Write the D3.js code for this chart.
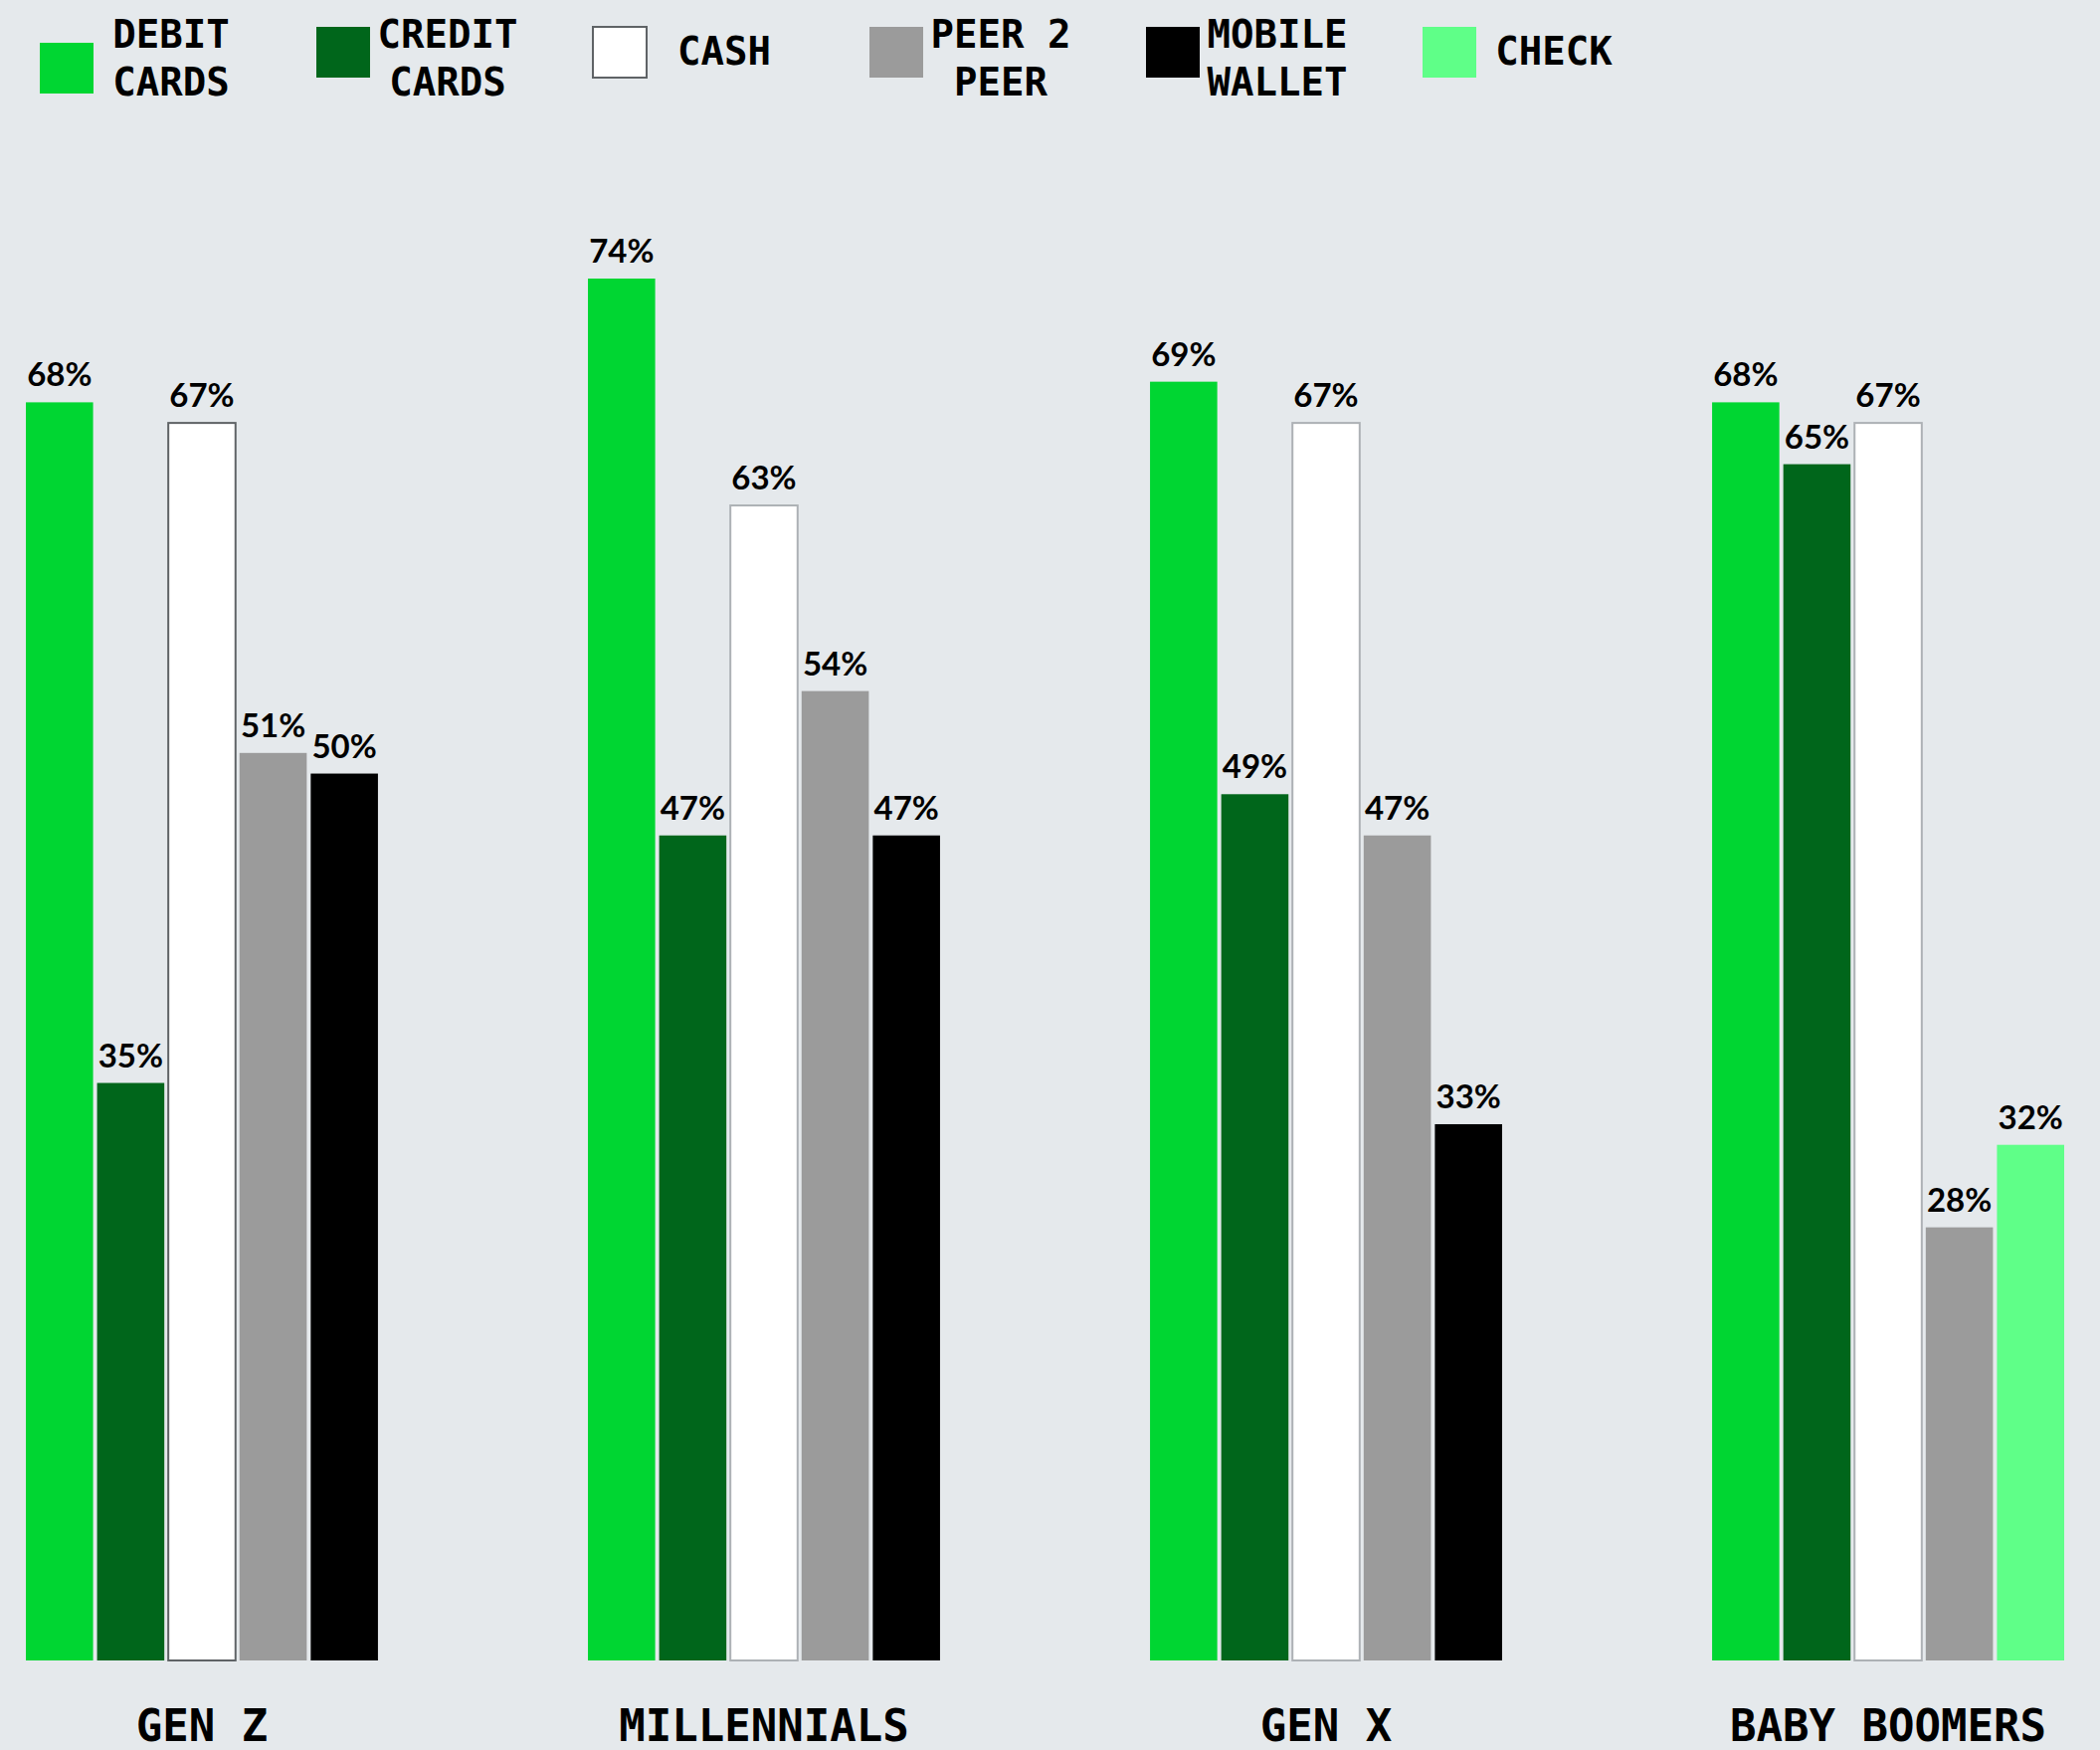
<!DOCTYPE html>
<html>
<head>
<meta charset="utf-8">
<script src="https://cdn.jsdelivr.net/npm/d3@7"></script>
<style>
  body { margin: 0; background: #e5e9ec; }
</style>
</head>
<body>
<svg id="chart" width="2111" height="1759"></svg>
<script>
// categories
const generations = ["GEN Z", "MILLENNIALS", "GEN X", "BABY BOOMERS"];
const methods = ["DEBIT CARDS", "CREDIT CARDS", "CASH", "PEER 2 PEER", "MOBILE WALLET", "CHECK"];
// legend text, split on two lines like the original
const legendLines = [["DEBIT", "CARDS"], ["CREDIT", "CARDS"], ["CASH"], ["PEER 2", "PEER"], ["MOBILE", "WALLET"], ["CHECK"]];

// series values (%), one per generation; null = not shown for that group
const debitCards   = [68, 74, 69, 68];
const creditCards  = [35, 47, 49, 65];
const cash         = [67, 63, 67, 67];
const peer2Peer    = [51, 54, 47, 28];
const mobileWallet = [50, 47, 33, null];
const check        = [null, null, null, 32];

const seriesValues = [debitCards, creditCards, cash, peer2Peer, mobileWallet, check];
const colors = ["#00d632", "#00661b", "#ffffff", "#9b9b9b", "#000000", "#5fff88"];

const svg = d3.select("#chart");
const width = +svg.attr("width"), height = +svg.attr("height");

svg.append("rect").attr("width", width).attr("height", height).attr("fill", "#e5e9ec");

const baseline = 1669;
const monoFont = "'DejaVu Sans Mono', monospace";

const x0 = d3.scaleBand()
    .domain(generations)
    .range([26, 2075])
    .paddingInner(0.3736);

const x1 = d3.scaleBand()
    .domain(d3.range(5))
    .range([0, x0.bandwidth()])
    .paddingInner(0.056);

const y = d3.scaleLinear()
    .domain([7, 74])
    .range([baseline, 280]);

// build bars: each generation shows the methods that have a value
const groups = generations.map(function(g, gi) {
    const bars = [];
    methods.forEach(function(m, mi) {
        const v = seriesValues[mi][gi];
        if (v != null) bars.push({ gen: g, gi: gi, method: m, mi: mi, value: v });
    });
    bars.forEach(function(b, i) { b.slot = i; });
    return { gen: g, bars: bars };
});

const groupG = svg.selectAll(".group")
    .data(groups)
    .enter().append("g")
    .attr("class", "group")
    .attr("transform", function(d) { return "translate(" + x0(d.gen) + ",0)"; });

groupG.selectAll("rect")
    .data(function(d) { return d.bars; })
    .enter().append("rect")
    .attr("x", function(d) { return x1(d.slot); })
    .attr("y", function(d) { return y(d.value); })
    .attr("width", x1.bandwidth())
    .attr("height", function(d) { return baseline - y(d.value); })
    .attr("fill", function(d) { return colors[d.mi]; })
    .attr("stroke", function(d) {
        if (d.mi != 2) return "none";
        return d.gi == 0 ? "#5f6366" : "#adb1b5";
    })
    .attr("stroke-width", 2);

groupG.selectAll("text.val")
    .data(function(d) { return d.bars; })
    .enter().append("text")
    .attr("class", "val")
    .attr("x", function(d) { return x1(d.slot) + x1.bandwidth() / 2; })
    .attr("y", function(d) { return y(d.value) - 16; })
    .attr("text-anchor", "middle")
    .style("font-family", "Lato")
    .style("font-weight", "bold")
    .style("font-size", "33px")
    .style("fill", "#000")
    .text(function(d) { return d.value + "%"; });

// x axis labels
svg.selectAll("text.gen")
    .data(generations)
    .enter().append("text")
    .attr("class", "gen")
    .attr("x", function(d) { return x0(d) + x0.bandwidth() / 2; })
    .attr("y", 1750)
    .attr("text-anchor", "middle")
    .style("font-family", monoFont)
    .style("font-weight", "bold")
    .style("font-size", "44px")
    .style("fill", "#000")
    .text(function(d) { return d; });

// legend
const legendX = d3.scalePoint()
    .domain(methods)
    .range([40, 1430]);

const legend = svg.selectAll(".legend")
    .data(methods)
    .enter().append("g")
    .attr("class", "legend")
    .attr("transform", function(d) { return "translate(" + legendX(d) + ",0)"; });

legend.append("rect")
    .attr("x", 0)
    .attr("y", function(d, i) { return i == 0 ? 43 : 27; })
    .attr("width", 54)
    .attr("height", 51)
    .attr("fill", function(d, i) { return colors[i]; })
    .attr("stroke", function(d, i) { return i == 2 ? "#5f6366" : "none"; })
    .attr("stroke-width", 2);

legend.each(function(d, i) {
    const lines = legendLines[i];
    const t = d3.select(this).append("text")
        .attr("text-anchor", "middle")
        .style("font-family", monoFont)
        .style("font-weight", "bold")
        .style("font-size", "39px")
        .style("fill", "#000");
    lines.forEach(function(l, li) {
        t.append("tspan")
            .attr("x", 132)
            .attr("y", lines.length == 1 ? 65 : 48 + li * 48)
            .text(l);
    });
});
</script>
</body>
</html>
